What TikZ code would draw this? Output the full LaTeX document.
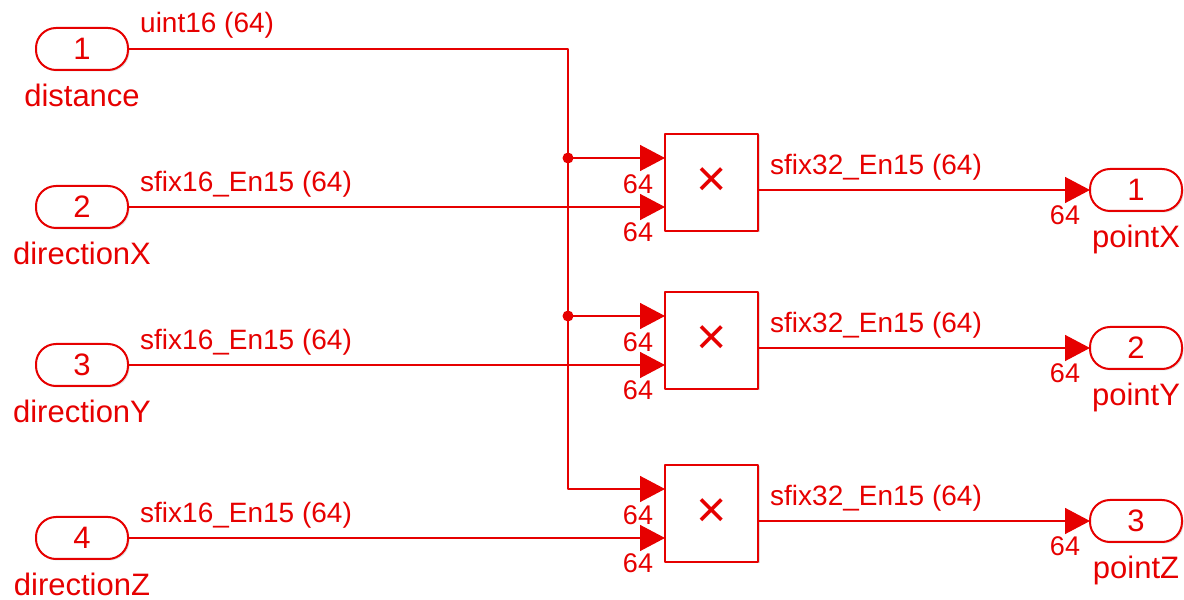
\documentclass[tikz,border=0pt]{standalone}
\usepackage{fontspec}
\setmainfont{Liberation Sans}
\usetikzlibrary{arrows.meta,calc,positioning,shadows}
\definecolor{sigred}{RGB}{230,0,0}
\begin{document}
\begin{tikzpicture}[x=1pt,y=1pt,>={Triangle[length=25pt,width=26pt]},line cap=round,line join=round,
  port/.style={draw=sigred,line width=2pt,rounded corners=20pt,minimum width=92pt,minimum height=42pt,
    inner sep=0pt,outer sep=0pt,fill=white,text=sigred,font=\fontsize{31}{34}\selectfont,
    drop shadow={shadow xshift=1.5pt,shadow yshift=-1.5pt,opacity=0.25}},
  portlbl/.style={text=sigred,inner sep=0pt,font=\fontsize{31}{34}\selectfont},
  prod/.style={draw=sigred,line width=2pt,minimum width=93pt,minimum height=97pt,inner sep=0pt,
    outer sep=0pt,fill=white,text=sigred,font=\fontsize{52}{56}\selectfont,
    drop shadow={shadow xshift=1.5pt,shadow yshift=-1.5pt,opacity=0.25}},
  wire/.style={draw=sigred,line width=1.4pt},
  sig/.style={text=sigred,inner sep=0pt,font=\fontsize{28}{32}\selectfont},
  dim/.style={text=sigred,inner sep=0pt,font=\fontsize{27}{30}\selectfont}]
\useasboundingbox (0,0) rectangle (1184,600);
% inports
\foreach \i/\y/\name in {1/551/distance,2/393/directionX,3/235/directionY,4/62/directionZ} {
  \node[port] (in\i) at (82,\y) {\i};
  \node[portlbl,below=14pt of in\i] (inlbl\i) {\name};
}
% product blocks
\foreach \k/\y in {1/417.5,2/259.5,3/86.5} {
  \node[prod] (p\k) at (711.5,\y) {×};
  \coordinate (pa\k) at ($(p\k.west)+(0,24.5)$);
  \coordinate (pb\k) at ($(p\k.west)+(0,-24.5)$);
  \coordinate (po\k) at ($(p\k.east)+(0,-7.5)$);
}
% outports
\foreach \k/\y/\name in {1/410/pointX,2/252/pointY,3/79/pointZ} {
  \node[port] (out\k) at (1136,\y) {\k};
  \node[portlbl,below=14pt of out\k] (outlbl\k) {\name};
}
\coordinate (trunk) at (568,0);
\draw[wire,->] (in1.east) -- (in1.east -| trunk) -- (pa3 -| trunk) -- (pa3);
\foreach \k in {1,2} {
  \fill[sigred] (pa\k -| trunk) circle (5.5pt);
  \draw[wire,->] (pa\k -| trunk) -- (pa\k);
}
\foreach \i/\k in {2/1,3/2,4/3} {\draw[wire,->] (in\i.east) -- (pb\k);}
\foreach \k in {1,2,3} {\draw[wire,->] (po\k) -- (out\k.west);}
% signal labels
\node[sig,anchor=base west] (sigin1) at ($(in1.east)+(12,16)$) {uint16 (64)};
\foreach \i in {2,3,4} {\node[sig,anchor=base west] (sigin\i) at ($(in\i.east)+(12,15)$) {sfix16\_En15 (64)};}
\foreach \k in {1,2,3} {
  \node[sig,anchor=base west] (sigout\k) at ($(po\k)+(12,15)$) {sfix32\_En15 (64)};
  \node[dim,anchor=north] (dima\k) at ($(pa\k)+(-27,-16)$) {64};
  \node[dim,anchor=north] (dimb\k) at ($(pb\k)+(-27,-15)$) {64};
  \node[dim,anchor=north] (dimo\k) at ($(out\k.west)+(-25,-15)$) {64};
}
\end{tikzpicture}
\end{document}
